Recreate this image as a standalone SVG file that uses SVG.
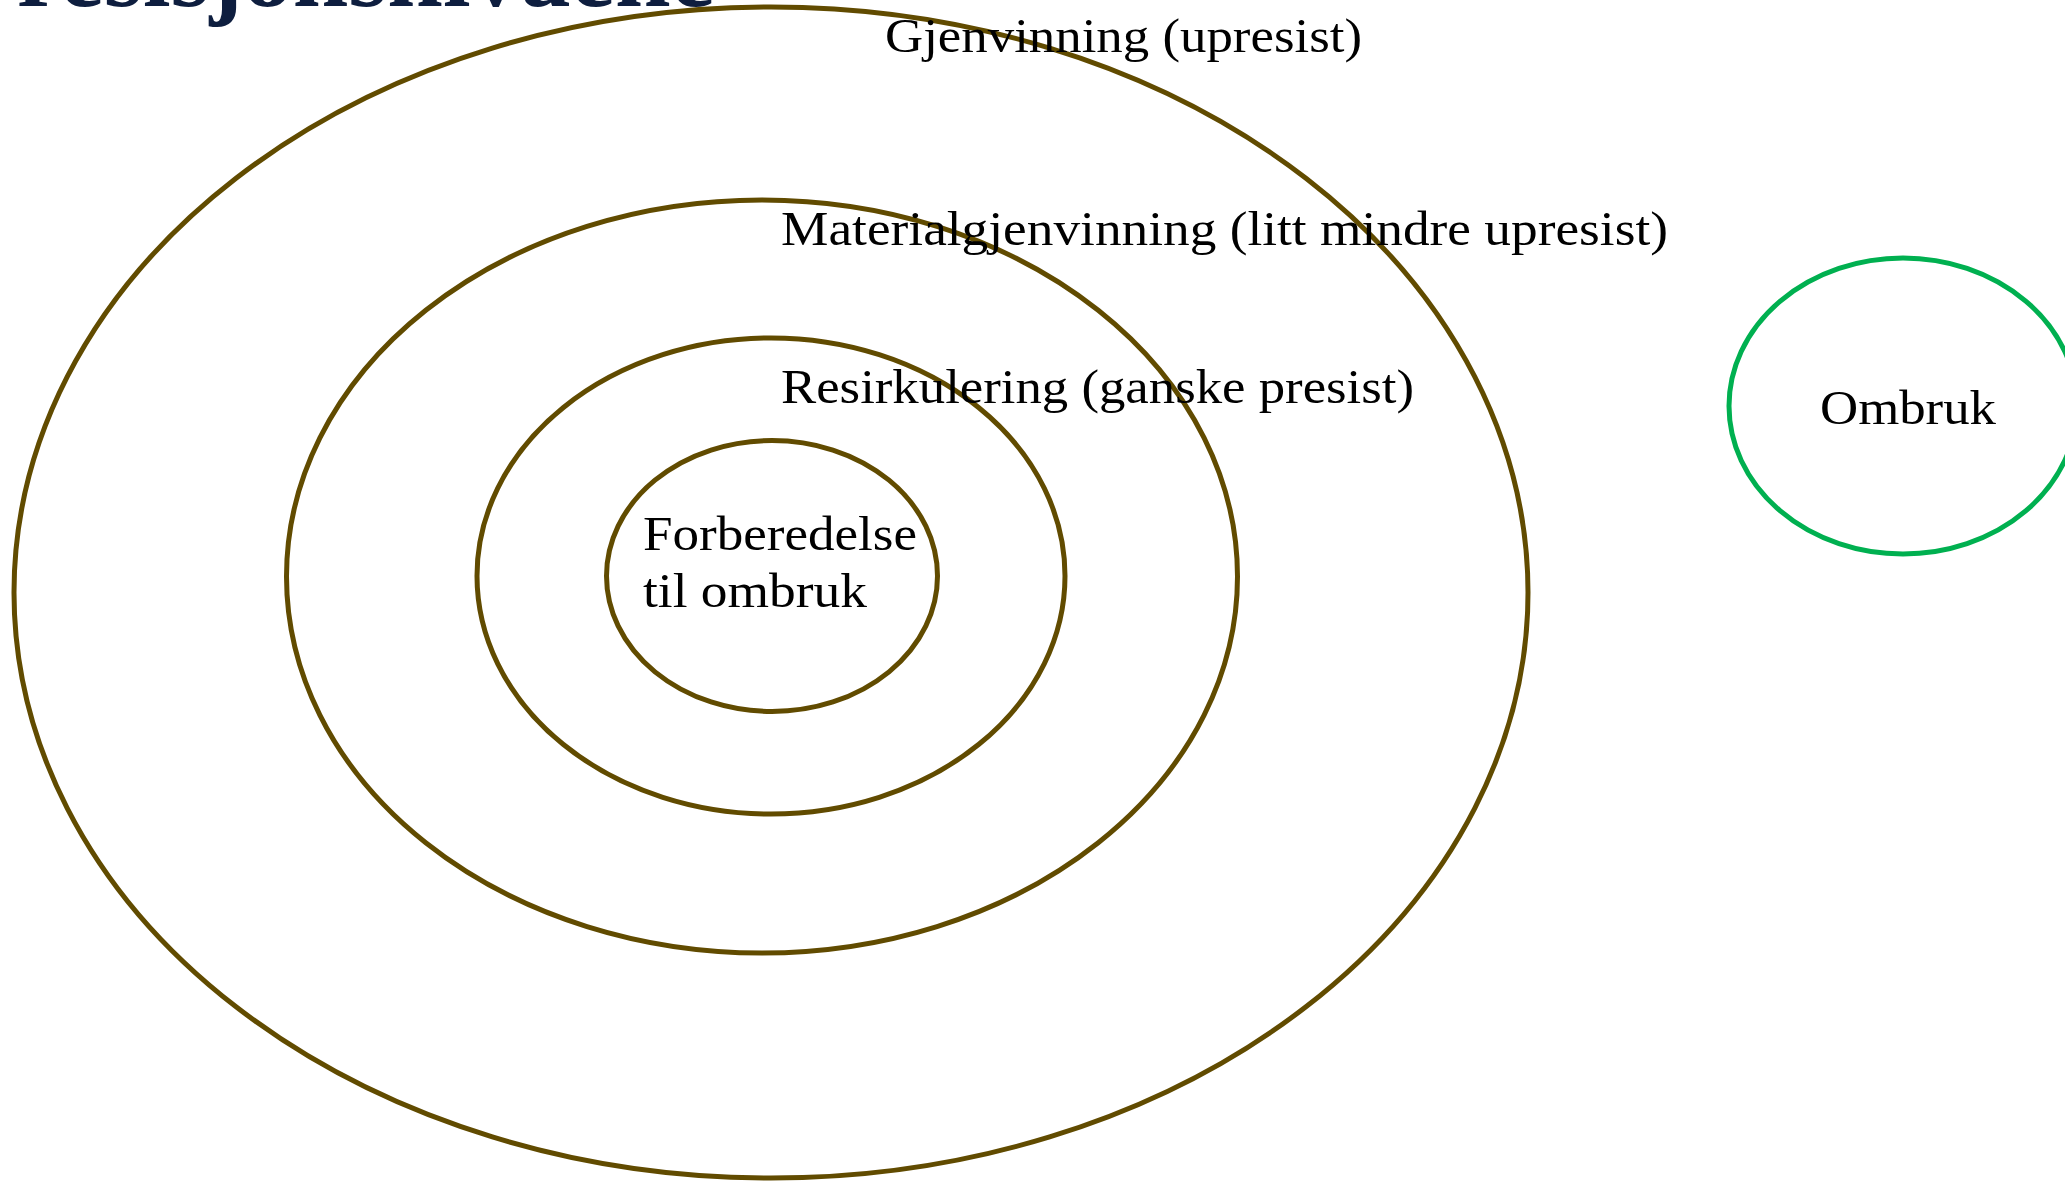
<svg xmlns="http://www.w3.org/2000/svg" width="2065" height="1181" viewBox="0 0 2065 1181">
<style>
.ring{fill:none;stroke:#614B00;stroke-width:5}
.green{fill:none;stroke:#00B050;stroke-width:5}
.lbl{font-family:"Liberation Serif","Times New Roman",serif;font-size:48px;fill:#000}
.title{font-family:"Liberation Serif","Times New Roman",serif;font-size:100px;font-weight:bold;fill:#0E1E3F}
</style>
<rect width="2065" height="1181" fill="#fff"/>
<g id="title">
<text class="title" x="715" y="6" text-anchor="end">Presisjonsnivåene</text>
</g>
<g id="gjenvinning">
<ellipse class="ring" cx="771" cy="592.5" rx="757" ry="585.5"/>
<text class="lbl" x="885" y="52" textLength="477" lengthAdjust="spacingAndGlyphs">Gjenvinning (upresist)</text>
</g>
<g id="materialgjenvinning">
<ellipse class="ring" cx="762" cy="576.5" rx="475.5" ry="376.5"/>
<text class="lbl" x="781" y="245" textLength="887" lengthAdjust="spacingAndGlyphs">Materialgjenvinning (litt mindre upresist)</text>
</g>
<g id="resirkulering">
<ellipse class="ring" cx="771" cy="576" rx="294" ry="238"/>
<text class="lbl" x="781" y="403" textLength="633" lengthAdjust="spacingAndGlyphs">Resirkulering (ganske presist)</text>
</g>
<g id="forberedelse">
<ellipse class="ring" cx="772" cy="576" rx="165.5" ry="135.5"/>
<text class="lbl" x="643" y="550" textLength="274" lengthAdjust="spacingAndGlyphs">Forberedelse</text>
<text class="lbl" x="643" y="607" textLength="224" lengthAdjust="spacingAndGlyphs">til ombruk</text>
</g>
<g id="ombruk">
<ellipse class="green" cx="1903" cy="406" rx="174" ry="148"/>
<text class="lbl" x="1820" y="424" textLength="176" lengthAdjust="spacingAndGlyphs">Ombruk</text>
</g>
<g id="connectors"/>
</svg>
